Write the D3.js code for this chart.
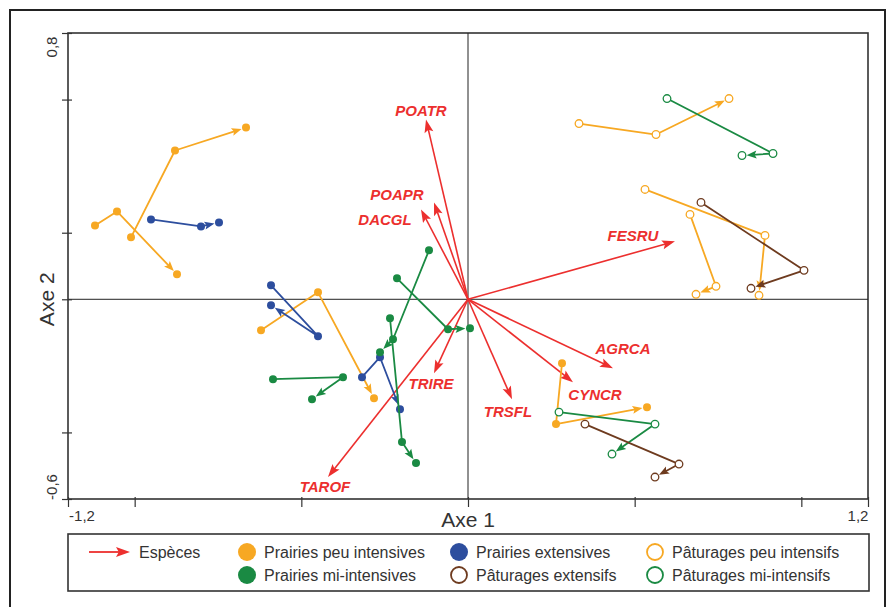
<!DOCTYPE html>
<html><head><meta charset="utf-8">
<script src="https://cdn.jsdelivr.net/npm/d3@7"></script>
<style>body{margin:0;background:#fff}svg{display:block}</style>
</head><body>
<svg id="c" width="893" height="607"></svg>
<script>
// ---- Data ----
const xTicks = [-1.2, -1.0, -0.5, 0, 0.5, 1.0, 1.2];
const yTicks = [-0.6, -0.4, 0, 0.2, 0.6, 0.8];
const xTickLabels = ["-1,2", "1,2"];
const yTickLabels = ["0,8", "-0,6"];

const speciesNames = ["POATR","POAPR","DACGL","FESRU","AGRCA","CYNCR","TRSFL","TRIRE","TAROF"];
const speciesX = [-0.126,-0.102,-0.141,0.621,0.435,0.315,0.132,-0.102,-0.420];
const speciesY = [0.540,0.291,0.270,0.174,-0.207,-0.249,-0.300,-0.222,-0.534];
const speciesLabelX = [-0.141,-0.213,-0.249,0.495,0.465,0.381,0.120,-0.111,-0.429];
const speciesLabelY = [0.567,0.315,0.240,0.192,-0.147,-0.285,-0.336,-0.252,-0.561];

const groupNames = ["Prairies peu intensives","Prairies extensives","Pâturages peu intensifs",
                    "Prairies mi-intensives","Pâturages extensifs","Pâturages mi-intensifs"];
const groupColors = ["#f7a823","#2d4e9e","#f7a823","#1a8a43","#6e3b1f","#1a8a43"];
const groupFilled = [true,true,false,true,false,false];

// trajectories: [group index, [[x,y],[x,y],[x,y]]]
const trajGroup = [0,0,0,0, 1,1,1, 3,3,3,3, 2,2,2, 5,5, 4,4];
const trajPoints = [
  [[-1.119,0.222],[-1.053,0.264],[-0.873,0.075]],
  [[-1.011,0.186],[-0.879,0.447],[-0.666,0.516]],
  [[-0.621,-0.093],[-0.450,0.021],[-0.282,-0.297]],
  [[0.282,-0.192],[0.264,-0.375],[0.537,-0.324]],
  [[-0.951,0.240],[-0.801,0.219],[-0.747,0.231]],
  [[-0.591,0.042],[-0.450,-0.111],[-0.591,-0.018]],
  [[-0.318,-0.234],[-0.264,-0.174],[-0.204,-0.330]],
  [[-0.213,0.063],[-0.060,-0.090],[0.006,-0.087]],
  [[-0.117,0.147],[-0.225,-0.120],[-0.264,-0.159]],
  [[-0.234,-0.057],[-0.198,-0.429],[-0.156,-0.492]],
  [[-0.585,-0.240],[-0.375,-0.234],[-0.468,-0.300]],
  [[0.333,0.528],[0.564,0.495],[0.783,0.603]],
  [[0.531,0.330],[0.891,0.192],[0.873,0.012]],
  [[0.666,0.255],[0.744,0.039],[0.684,0.015]],
  [[0.597,0.603],[0.915,0.438],[0.822,0.432]],
  [[0.273,-0.339],[0.561,-0.375],[0.432,-0.465]],
  [[0.699,0.291],[1.008,0.087],[0.849,0.033]],
  [[0.351,-0.375],[0.633,-0.495],[0.561,-0.534]]
];

// ---- Drawing ----
const svg = d3.select("#c");
const FONT = "'Liberation Sans', Arial, Helvetica, sans-serif";
const RED = "#ec2f2e";
const x = d3.scaleLinear().domain([-1.2,1.2]).range([68,868]);
const y = d3.scaleLinear().domain([-0.6,0.8]).range([499,33]);

// outer frame
svg.append("rect").attr("x",10).attr("y",10).attr("width",875).attr("height",610)
  .attr("fill","none").attr("stroke","#222").attr("stroke-width",2);

// plot box
svg.append("rect").attr("x",x(-1.2)).attr("y",y(0.8)).attr("width",x(1.2)-x(-1.2)).attr("height",y(-0.6)-y(0.8))
  .attr("fill","none").attr("stroke","#333").attr("stroke-width",1.6);

// zero lines
svg.append("line").attr("x1",x(0)).attr("x2",x(0)).attr("y1",y(0.8)).attr("y2",y(-0.6)).attr("stroke","#222").attr("stroke-width",1);
svg.append("line").attr("x1",x(-1.2)).attr("x2",x(1.2)).attr("y1",y(0)).attr("y2",y(0)).attr("stroke","#222").attr("stroke-width",1);

// ticks
const xAxis = d3.axisBottom(x).tickValues(xTicks).tickSize(8).tickFormat("");
const gx = svg.append("g").attr("transform",`translate(0,${y(-0.6)})`).call(xAxis);
gx.select(".domain").remove();
gx.selectAll(".tick line").attr("y1",-2).attr("stroke","#333").attr("stroke-width",1.2);
const yAxis = d3.axisLeft(y).tickValues(yTicks).tickSize(6).tickFormat("");
const gy = svg.append("g").attr("transform",`translate(${x(-1.2)},0)`).call(yAxis);
gy.select(".domain").remove();
gy.selectAll(".tick line").attr("x1",4).attr("stroke","#333").attr("stroke-width",1.2);

// tick labels
svg.append("text").attr("x",x(-1.2)+14).attr("y",y(-0.6)+22).attr("text-anchor","middle")
  .attr("font-family",FONT).attr("font-size",15).attr("fill","#333").text(xTickLabels[0]);
svg.append("text").attr("x",x(1.2)-10).attr("y",y(-0.6)+22).attr("text-anchor","middle")
  .attr("font-family",FONT).attr("font-size",15).attr("fill","#333").text(xTickLabels[1]);
svg.append("text").attr("transform",`translate(${x(-1.2)-11},${y(0.8)+14}) rotate(-90)`).attr("text-anchor","middle")
  .attr("font-family",FONT).attr("font-size",15).attr("fill","#333").text(yTickLabels[0]);
svg.append("text").attr("transform",`translate(${x(-1.2)-11},${y(-0.6)-12}) rotate(-90)`).attr("text-anchor","middle")
  .attr("font-family",FONT).attr("font-size",15).attr("fill","#333").text(yTickLabels[1]);

// axis titles
svg.append("text").attr("x",x(0)).attr("y",527).attr("text-anchor","middle")
  .attr("font-family",FONT).attr("font-size",21).attr("fill","#333").text("Axe 1");
svg.append("text").attr("transform",`translate(54,${y(0)}) rotate(-90)`).attr("text-anchor","middle")
  .attr("font-family",FONT).attr("font-size",21).attr("fill","#333").text("Axe 2");

function arrowHead(g, x1, y1, x2, y2, len, wid, color) {
  const dx = x2-x1, dy = y2-y1, L = Math.hypot(dx,dy);
  const ux = dx/L, uy = dy/L, px = -uy, py = ux;
  const bx = x2-ux*len, by = y2-uy*len;
  const nx = x2-ux*len*0.8, ny = y2-uy*len*0.8;
  g.append("path")
    .attr("d",`M${x2},${y2}L${bx+px*wid/2},${by+py*wid/2}L${nx},${ny}L${bx-px*wid/2},${by-py*wid/2}Z`)
    .attr("fill",color);
}

// species arrows
const gs = svg.append("g");
speciesNames.forEach((n,i)=>{
  const x0=x(0), y0=y(0), x1=x(speciesX[i]), y1=y(speciesY[i]);
  const L=Math.hypot(x1-x0,y1-y0);
  gs.append("line").attr("x1",x0).attr("y1",y0)
    .attr("x2",x1-(x1-x0)/L*8).attr("y2",y1-(y1-y0)/L*8)
    .attr("stroke",RED).attr("stroke-width",1.6);
  arrowHead(gs,x0,y0,x1,y1,13,9,RED);
  gs.append("text").attr("x",x(speciesLabelX[i])).attr("y",y(speciesLabelY[i])+5.5)
    .attr("text-anchor","middle").attr("font-family",FONT).attr("font-size",15)
    .attr("font-weight","bold").attr("font-style","italic").attr("fill",RED).text(n);
});

// trajectories
const gt = svg.append("g");
const R = 3.8;
trajPoints.forEach((pts,i)=>{
  const gi = trajGroup[i], col = groupColors[gi], filled = groupFilled[gi];
  const P = pts.map(p=>[x(p[0]),y(p[1])]);
  const a=P[P.length-2], b=P[P.length-1];
  const L=Math.hypot(b[0]-a[0],b[1]-a[1]);
  const ux=(b[0]-a[0])/L, uy=(b[1]-a[1])/L;
  const tip=[b[0]-ux*(R+0.8), b[1]-uy*(R+0.8)];
  const lineEnd=[tip[0]-ux*6, tip[1]-uy*6];
  const path = P.slice(0,-1).concat([lineEnd]);
  gt.append("path").attr("d",d3.line()(path)).attr("fill","none")
    .attr("stroke",col).attr("stroke-width",1.8).attr("stroke-linejoin","round");
  arrowHead(gt,a[0],a[1],tip[0],tip[1],10,8,col);
  P.forEach(p=>{
    gt.append("circle").attr("cx",p[0]).attr("cy",p[1]).attr("r",filled?4:R)
      .attr("fill",filled?col:"#fff").attr("stroke",col).attr("stroke-width",filled?0:1.3);
  });
});

// legend
const lg = svg.append("g");
lg.append("rect").attr("x",68).attr("y",534).attr("width",801).attr("height",57)
  .attr("fill","#fff").attr("stroke","#333").attr("stroke-width",1.6);
lg.append("line").attr("x1",89).attr("y1",552).attr("x2",120).attr("y2",552).attr("stroke",RED).attr("stroke-width",1.8);
arrowHead(lg,89,552,130,552,14,10,RED);
lg.append("text").attr("x",139).attr("y",557.5).attr("font-family",FONT).attr("font-size",16).attr("fill","#333").text("Espèces");
const legCols=[247,459,655], legRows=[552,575];
groupNames.forEach((n,i)=>{
  const cx = legCols[i%3], cy = legRows[Math.floor(i/3)];
  const filled = groupFilled[i], col = groupColors[i];
  lg.append("circle").attr("cx",cx).attr("cy",cy).attr("r",filled?9:8)
    .attr("fill",filled?col:"#fff").attr("stroke",col).attr("stroke-width",filled?0:1.8);
  lg.append("text").attr("x",cx+17).attr("y",cy+5.5).attr("font-family",FONT).attr("font-size",16)
    .attr("fill","#333").text(n);
});
</script>
</body></html>
